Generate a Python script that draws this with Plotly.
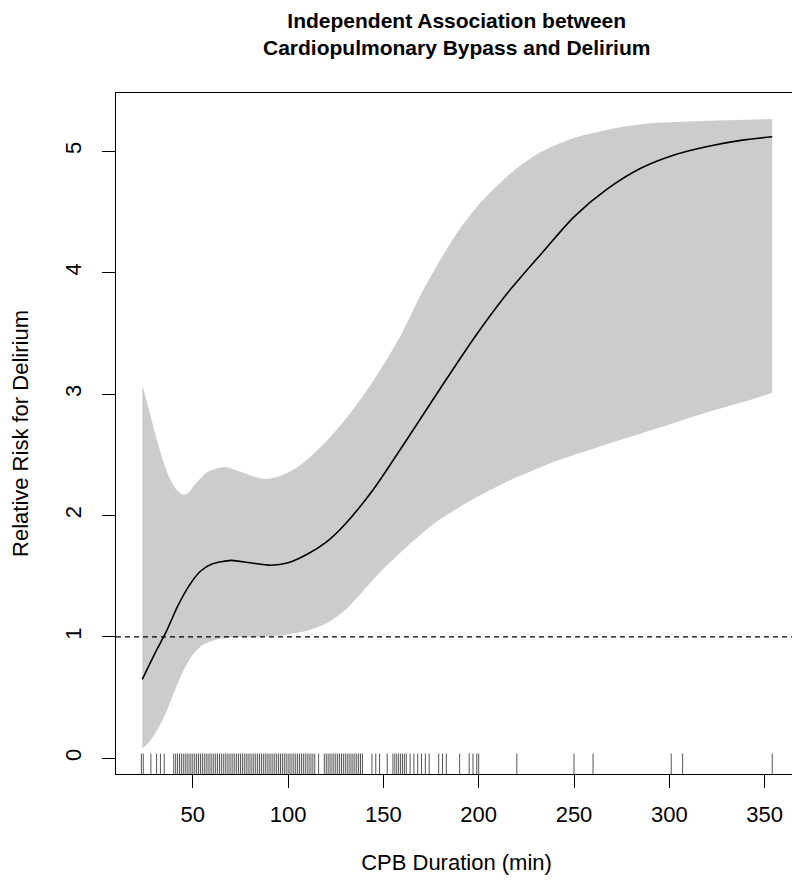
import plotly.graph_objects as go

# ---- data ----
curve_x = [23.5, 30, 36, 42, 48, 54, 60, 70, 80, 91, 100, 110, 120, 130, 145, 162.5, 180,
           197.5, 215, 232.5, 250, 267.5, 285, 302.5, 320, 337.5, 354]
curve_rr = [0.65, 0.86, 1.04, 1.25, 1.42, 1.54, 1.60, 1.63, 1.61, 1.59, 1.61, 1.68, 1.78, 1.93, 2.22,
            2.63, 3.05, 3.46, 3.83, 4.15, 4.46, 4.69, 4.86, 4.97, 5.04, 5.09, 5.12]

upper_x = [23.5, 27, 30.5, 34, 37.5, 41, 45, 48, 50.9, 57.9, 66.6, 75, 82, 88.4, 95, 103.2, 110,
           120, 130, 140, 150, 160, 170, 180, 190, 200, 210, 220, 230, 240, 250, 260, 275, 290,
           310, 330, 354]
upper_rr = [3.07, 2.87, 2.66, 2.47, 2.32, 2.22, 2.17, 2.19, 2.25, 2.36, 2.40, 2.36, 2.32, 2.30, 2.32,
            2.38, 2.46, 2.61, 2.79, 3.00, 3.24, 3.51, 3.83, 4.11, 4.36, 4.56, 4.72, 4.86, 4.97,
            5.05, 5.11, 5.15, 5.20, 5.23, 5.245, 5.255, 5.265]

lower_x = [23.5, 27.5, 31.7, 36, 40.4, 45, 50.9, 56, 63.1, 75, 84, 95, 103, 110, 120, 130, 140,
           150, 160, 170, 180, 190, 200, 215, 230, 241, 260, 280, 300, 320, 340, 354]
lower_rr = [0.08, 0.14, 0.24, 0.38, 0.55, 0.72, 0.87, 0.94, 0.98, 1.00, 1.00, 1.01, 1.03, 1.05, 1.11,
            1.22, 1.39, 1.56, 1.71, 1.85, 1.97, 2.07, 2.16, 2.28, 2.38, 2.45, 2.55, 2.65, 2.75,
            2.85, 2.94, 3.01]

rug_minutes = ([23, 24, 28, 31, 33, 35]
               + [40, 41, 42, 43, 44, 45, 46, 47, 48, 49, 50, 51, 52, 53, 54, 55, 56, 57, 58, 59,
                  60, 61, 62, 63, 64, 65, 66, 67, 68, 69, 70, 71, 72, 73, 74, 75, 76, 77, 78, 79,
                  80, 81, 82, 83, 84, 85, 86, 87, 88, 89, 90, 91, 92, 93, 94, 95, 96, 97, 98, 99,
                  100, 101, 102, 103, 104, 105, 106, 107, 108, 109, 110, 111, 112, 113, 114, 116,
                  119, 120, 121, 122, 123, 124, 125, 126, 127, 128, 129, 130, 131, 132, 133, 134,
                  135, 136, 137, 138, 139]
               + [144, 146, 148, 152, 155, 156, 157, 158, 159, 160, 161, 162, 164, 166, 168, 170,
                  172, 174, 179, 181, 183, 190, 195, 197, 199, 200, 220, 250, 260, 301, 307, 354])

reference_rr = 1
x_ticks = [50, 100, 150, 200, 250, 300, 350]
y_ticks = [0, 1, 2, 3, 4, 5]

title_text = "Independent Association between<br>Cardiopulmonary Bypass and Delirium"
x_title = "CPB Duration (min)"
y_title = "Relative Risk for Delirium"

FONT = "Liberation Sans, Arial, Helvetica, sans-serif"

fig = go.Figure()

# confidence band: lower (invisible) then upper filled to it
fig.add_trace(go.Scatter(
    x=lower_x, y=lower_rr, mode="lines",
    line=dict(width=0, color="#CCCCCC", shape="spline", smoothing=0.7),
    hoverinfo="skip", showlegend=False))
fig.add_trace(go.Scatter(
    x=upper_x, y=upper_rr, mode="lines", fill="tonexty", fillcolor="#CCCCCC",
    line=dict(width=0, color="#CCCCCC", shape="spline", smoothing=0.7),
    hoverinfo="skip", showlegend=False))

# estimate curve
fig.add_trace(go.Scatter(
    x=curve_x, y=curve_rr, mode="lines",
    line=dict(width=1.6, color="black", shape="spline", smoothing=0.7),
    showlegend=False))

shapes = []
# reference line at RR = 1
shapes.append(dict(type="line", xref="x domain", x0=0, x1=1, yref="y",
                   y0=reference_rr, y1=reference_rr,
                   line=dict(color="black", width=1.2, dash="5px,4px"), layer="above"))
# rug
for m in rug_minutes:
    shapes.append(dict(type="line", xref="x", x0=m, x1=m, yref="y domain", y0=0, y1=0.03,
                       line=dict(color="#555555", width=1), layer="above"))

fig.update_layout(
    width=800, height=881,
    margin=dict(l=108, r=11, t=85, b=115, autoexpand=False),
    paper_bgcolor="white", plot_bgcolor="white",
    font=dict(family=FONT, size=22, color="black"),
    shapes=shapes,
    showlegend=False,
    annotations=[dict(text="<b>" + title_text + "</b>", xref="paper", x=0.5, xanchor="center",
                      yref="paper", y=1, yanchor="bottom", yshift=32, showarrow=False,
                      align="center", font=dict(family=FONT, size=21, color="black"))],
)

fig.update_xaxes(
    range=[9.7, 367], tickvals=x_ticks, ticktext=[str(v) for v in x_ticks],
    ticks="outside", ticklen=13, tickcolor="black", tickwidth=1,
    showline=True, linecolor="black", linewidth=1, mirror=True,
    showgrid=False, zeroline=False, automargin=False,
    tickfont=dict(size=22), ticklabelstandoff=8,
    title=dict(text=x_title, font=dict(size=22), standoff=28),
)
fig.update_yaxes(
    range=[-0.13, 5.48], tickvals=y_ticks, ticktext=[str(v) for v in y_ticks],
    ticks="outside", ticklen=13, tickcolor="black", tickwidth=1,
    showline=True, linecolor="black", linewidth=1, mirror=True,
    showgrid=False, zeroline=False, tickangle=-90, automargin=False,
    tickfont=dict(size=22), ticklabelstandoff=12,
    title=dict(text=y_title, font=dict(size=22), standoff=30),
)

fig.write_html("out.html")
